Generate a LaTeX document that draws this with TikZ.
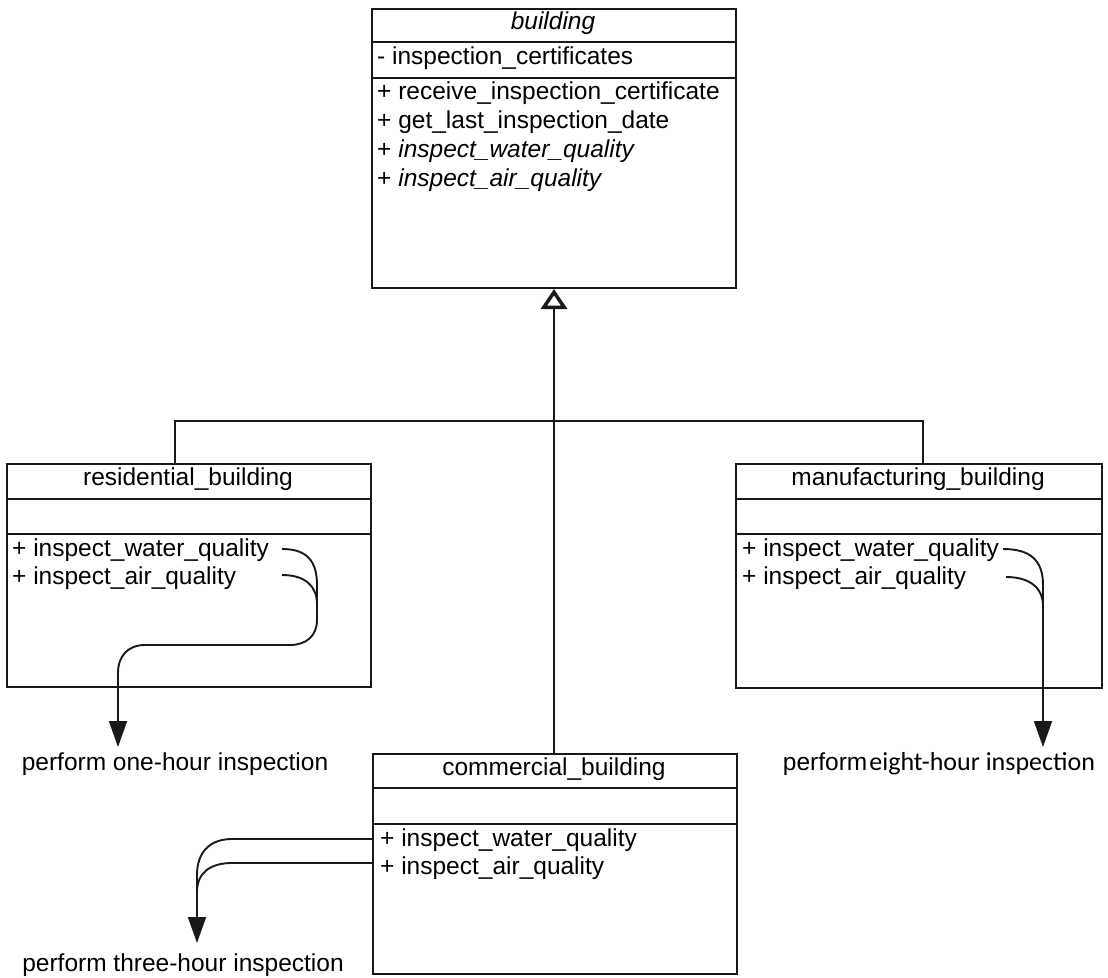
\documentclass[tikz,border=0pt]{standalone}
\usepackage{fontspec}
\setmainfont{Liberation Sans}
\newfontfamily\carlito{Carlito}
\usetikzlibrary{arrows.meta}
\begin{document}
\begin{tikzpicture}[x=1pt,y=-1pt,
  box/.style={draw=black!90, line width=2pt, rectangle, inner sep=0pt, anchor=north west},
  divline/.style={draw=black!90, line width=1.8pt},
  txt/.style={font=\fontsize{24.5}{29}\selectfont, inner sep=0pt, anchor=west, text height=17.5pt, text depth=5pt},
  ttl/.style={txt, anchor=center},
  conn/.style={draw=black!90, line width=1.9pt},
  filledtip/.style={-{Triangle[length=26pt,width=18pt]}},
  opentip/.style={-{Triangle[open,length=20pt,width=26pt,line width=3.5pt]}}
]
\useasboundingbox (0,0) rectangle (1108,977);

% boxes
\node[box, minimum width=364pt, minimum height=279pt] (building) at (371,8) {};
\node[box, minimum width=364pt, minimum height=223pt] (residential) at (6,463) {};
\node[box, minimum width=366pt, minimum height=224pt] (manufacturing) at (735,463) {};
\node[box, minimum width=364pt, minimum height=220pt] (commercial) at (372,753) {};

% dividers
\draw[divline] (building.north west |- 0,42) -- (building.north east |- 0,42);
\draw[divline] (building.north west |- 0,78) -- (building.north east |- 0,78);
\draw[divline] (residential.north west |- 0,499) -- (residential.north east |- 0,499);
\draw[divline] (residential.north west |- 0,534) -- (residential.north east |- 0,534);
\draw[divline] (manufacturing.north west |- 0,499) -- (manufacturing.north east |- 0,499);
\draw[divline] (manufacturing.north west |- 0,534) -- (manufacturing.north east |- 0,534);
\draw[divline] (commercial.north west |- 0,788) -- (commercial.north east |- 0,788);
\draw[divline] (commercial.north west |- 0,824) -- (commercial.north east |- 0,824);

% building texts
\node[ttl] (bname) at (553,23) {\itshape building};
\node[txt] (battr) at (377,58) {- inspection\_certificates};
\node[txt] (bm1) at (377,93) {+ receive\_inspection\_certificate};
\node[txt] (bm2) at (377,122) {+ get\_last\_inspection\_date};
\node[txt] (bm3) at (377,151) {+ \itshape inspect\_water\_quality};
\node[txt] (bm4) at (377,180) {+ \itshape inspect\_air\_quality};

% residential texts
\node[ttl] (rname) at (188,479) {residential\_building};
\node[txt] (rm1) at (12,550) {+ inspect\_water\_quality};
\node[txt] (rm2) at (12,578) {+ inspect\_air\_quality};

% manufacturing texts
\node[ttl] (mname) at (918,479) {manufacturing\_building};
\node[txt] (mm1) at (742,550) {+ inspect\_water\_quality};
\node[txt] (mm2) at (742,578) {+ inspect\_air\_quality};

% commercial texts
\node[ttl] (cname) at (554,769) {commercial\_building};
\node[txt] (cm1) at (380,840) {+ inspect\_water\_quality};
\node[txt] (cm2) at (380,868) {+ inspect\_air\_quality};

% labels
\node[ttl] (one) at (175,764) {perform one-hour inspection};
\node[ttl] (eight) at (939,764) {perform\hspace{2pt}{\carlito\fontsize{26}{30}\selectfont eight-hour inspection}};
\node[ttl] (three) at (183,965) {perform three-hour inspection};

% inheritance
\coordinate (rtop) at (175,463);
\coordinate (mtop) at (923,463);
\coordinate (bus) at (553,421);
\draw[conn] (rtop) |- (bus) -| (mtop);
\draw[conn, opentip] (commercial.north -| building.south) -- (building.south);

% residential connectors
\coordinate (rw) at (282,549);
\coordinate (ra) at (282,575);
\coordinate (rEnd) at (118,747);
\draw[conn, filledtip] (rw) .. controls (306,549) and (317,560) .. (317,585)
  -- (317,620) .. controls (317,636) and (306,645) .. (290,645)
  -- (145,645) .. controls (128,645) and (118,656) .. (118,673) -- (rEnd);
\draw[conn] (ra) .. controls (305,575) and (317,586) .. (317,604);

% manufacturing connectors
\coordinate (mw) at (1003,549);
\coordinate (ma) at (1006,577);
\coordinate (mEnd) at (1043,747);
\draw[conn, filledtip] (mw) .. controls (1030,549) and (1043,560) .. (1043,585) -- (mEnd);
\draw[conn] (ma) .. controls (1030,577) and (1043,588) .. (1043,606);

% commercial connectors
\coordinate (cw) at (372,839);
\coordinate (ca) at (372,863);
\coordinate (cEnd) at (197,943);
\draw[conn, filledtip] (cw) -- (232,839) .. controls (210,839) and (197,852) .. (197,875) -- (cEnd);
\draw[conn] (ca) -- (232,863) .. controls (210,863) and (197,873) .. (197,892);
\end{tikzpicture}
\end{document}
